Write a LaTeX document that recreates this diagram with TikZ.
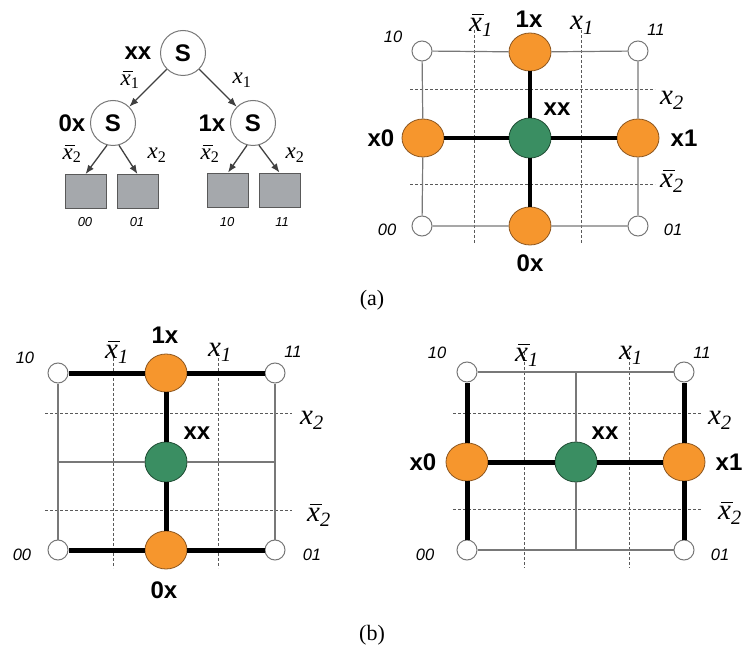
\documentclass[tikz,border=0pt]{standalone}
\usepackage{fontspec}
\setmainfont{Liberation Serif}
\setsansfont{Liberation Sans}
\usetikzlibrary{shapes.geometric,arrows.meta}
\definecolor{orfill}{RGB}{246,150,45}
\definecolor{ordraw}{RGB}{140,85,30}
\definecolor{grfill}{RGB}{58,142,98}
\definecolor{grdraw}{RGB}{30,75,50}
\definecolor{leaffill}{RGB}{165,168,172}
\definecolor{thingray}{RGB}{120,120,120}
\newcommand\barx{\leavevmode\rlap{\hspace{0.1em}\raisebox{0.56em}{\rule{0.42em}{0.055em}}}x}
\newcommand\mx[1]{\textit{x}\textsubscript{\textit{#1}}}
\newcommand\mxb[1]{\textit{\barx}\textsubscript{\textit{#1}}}
\newcommand\tx[1]{\textit{x}\textsubscript{#1}}
\newcommand\txb[1]{\textit{\barx}\textsubscript{#1}}
\begin{document}
\begin{tikzpicture}[x=1pt,y=-1pt,
  snode/.style={circle, draw=thingray, line width=1pt, fill=white, minimum size=45pt, inner sep=0pt, font=\fontsize{24}{24}\selectfont\sffamily\bfseries},
  leaf/.style={rectangle, draw=gray!70!black, line width=0.8pt, fill=leaffill, minimum width=41pt, minimum height=34pt, inner sep=0pt},
  arr/.style={-{Latex[length=9pt,width=7pt]}, line width=1.3pt, draw=black!75},
  orn/.style={ellipse, draw=ordraw, line width=0.8pt, fill=orfill, minimum width=42pt, minimum height=38pt, inner sep=0pt},
  grn/.style={ellipse, draw=grdraw, line width=0.8pt, fill=grfill, minimum width=42pt, minimum height=40pt, inner sep=0pt},
  crn/.style={circle, draw=thingray, line width=1pt, fill=white, minimum size=20pt, inner sep=0pt},
  thinE/.style={draw=thingray, line width=1.2pt},
  thickA/.style={draw=black, line width=3.3pt},
  thickB/.style={draw=black, line width=5pt},
  dsh/.style={draw=black!65, dash pattern=on 3pt off 2pt, line width=0.9pt},
  bl/.style={font=\fontsize{24}{24}\selectfont\sffamily\bfseries, inner sep=0pt},
  num/.style={font=\fontsize{16.5}{16.5}\selectfont\sffamily\itshape, inner sep=0pt},
  tnum/.style={font=\fontsize{13}{13}\selectfont\sffamily\itshape, inner sep=0pt},
  mlab/.style={font=\fontsize{29}{29}\selectfont, inner sep=0pt},
  tlab/.style={font=\fontsize{23}{23}\selectfont, inner sep=0pt},
  capt/.style={font=\fontsize{22}{22}\selectfont, inner sep=0pt}]
\useasboundingbox (0,0) rectangle (745,655);

% ---------------- Tree ----------------
\node[snode] (rt) at (183,53) {S};
\node[snode] (ls) at (113,123) {S};
\node[snode] (rs) at (253,123) {S};
\node[leaf] (b00) at (85.5,191.5) {};
\node[leaf] (b01) at (137.5,191.5) {};
\node[leaf] (b10) at (228,190) {};
\node[leaf] (b11) at (279.5,190) {};
\draw[arr] (rt) -- (ls);
\draw[arr] (rt) -- (rs);
\draw[arr] (ls.-105) -- (b00.north);
\draw[arr] (ls.-75) -- (b01.north);
\draw[arr] (rs.-105) -- (b10.north);
\draw[arr] (rs.-75) -- (b11.north);
\node[bl] (txx) at (138,53) {xx};
\node[bl] (t0x) at (72,123) {0x};
\node[bl] (t1x) at (212,123) {1x};
\node[tlab] (te1) at (130,80) {\txb{1}};
\node[tlab] (te2) at (242,80) {\tx{1}};
\node[tlab] (te3) at (72,154) {\txb{2}};
\node[tlab] (te4) at (157,155) {\tx{2}};
\node[tlab] (te5) at (210,154) {\txb{2}};
\node[tlab] (te6) at (295,155) {\tx{2}};
\node[tnum] (tl00) at (85,222) {00};
\node[tnum] (tl01) at (137,222) {01};
\node[tnum] (tl10) at (227,222) {10};
\node[tnum] (tl11) at (282,222) {11};

% ---------------- (a) grid ----------------
\draw[dsh] (474,30) -- (474,243);
\draw[dsh] (581,30) -- (581,243);
\draw[dsh] (410,89) -- (655,89);
\draw[dsh] (410,184) -- (655,184);
\node[crn] (a10) at (422,51) {};
\node[crn] (a11) at (638,51) {};
\node[crn] (a00) at (422,226) {};
\node[crn] (a01) at (638,226) {};
\node[orn] (a1x) at (530,52) {};
\node[orn] (a0x) at (530,226) {};
\node[orn] (ax0) at (423,138) {};
\node[orn] (ax1) at (638,138) {};
\node[grn] (axx) at (530,138) {};
\draw[thinE] (a10) -- (a1x) (a1x) -- (a11) (a11) -- (ax1) (ax1) -- (a01)
  (a01) -- (a0x) (a0x) -- (a00) (a00) -- (ax0) (ax0) -- (a10);
\draw[thickA] (axx) -- (a1x) (axx) -- (a0x) (axx) -- (ax0) (axx) -- (ax1);
\node[mlab] (la1) at (481,25) {\mxb{1}};
\node[mlab] (la2) at (582,25) {\mx{1}};
\node[bl] (la3) at (529,19) {1x};
\node[num] (la4) at (393,37) {10};
\node[num] (la5) at (656,30) {11};
\node[mlab] (la6) at (672,100) {\mx{2}};
\node[bl] (la7) at (557,109) {xx};
\node[bl] (la8) at (381,138) {x0};
\node[bl] (la9) at (684,138) {x1};
\node[mlab] (la10) at (672,181) {\mxb{2}};
\node[num] (la11) at (387,230) {00};
\node[num] (la12) at (673,230) {01};
\node[bl] (la13) at (530,263) {0x};
\node[capt] (capa) at (372,300) {(a)};

% ---------------- (b) left grid ----------------
\draw[dsh] (113,353) -- (113,568);
\draw[dsh] (218,353) -- (218,568);
\draw[dsh] (45,413) -- (292,413);
\draw[dsh] (45,510) -- (292,510);
\node[crn] (l10) at (58,373) {};
\node[crn] (l11) at (275,373) {};
\node[crn] (l00) at (58,550) {};
\node[crn] (l01) at (275,550) {};
\node[orn] (l1x) at (166,373) {};
\node[orn] (l0x) at (166,550) {};
\node[grn] (lxx) at (166,462) {};
\coordinate (lml) at (58,462);
\coordinate (lmr) at (275,462);
\draw[thinE] (l10) -- (l00) (l11) -- (l01) (lml) -- (lxx) (lxx) -- (lmr);
\draw[thickB] (l10) -- (l1x) (l1x) -- (l11) (l00) -- (l0x) (l0x) -- (l01)
  (l1x) -- (lxx) (lxx) -- (l0x);
\node[num] (lb1) at (25,358) {10};
\node[mlab] (lb2) at (117,352) {\mxb{1}};
\node[bl] (lb3) at (165,335) {1x};
\node[mlab] (lb4) at (220,352) {\mx{1}};
\node[num] (lb5) at (293,352) {11};
\node[mlab] (lb6) at (312,420) {\mx{2}};
\node[bl] (lb7) at (197,433) {xx};
\node[mlab] (lb8) at (319,515) {\mxb{2}};
\node[num] (lb9) at (22,555) {00};
\node[num] (lb10) at (312,555) {01};
\node[bl] (lb11) at (164,590) {0x};

% ---------------- (b) right grid ----------------
\draw[dsh] (524,352) -- (524,568);
\draw[dsh] (629,352) -- (629,568);
\draw[dsh] (453,413) -- (702,413);
\draw[dsh] (453,509) -- (702,509);
\node[crn] (r10) at (467,372) {};
\node[crn] (r11) at (684,372) {};
\node[crn] (r00) at (467,550) {};
\node[crn] (r01) at (684,550) {};
\node[orn] (rx0) at (467,462) {};
\node[orn] (rx1) at (684,462) {};
\node[grn] (rxx) at (576,462) {};
\coordinate (rmt) at (576,372);
\coordinate (rmb) at (576,550);
\draw[thinE] (r10) -- (r11) (r00) -- (r01) (rmt) -- (rxx) (rxx) -- (rmb);
\draw[thickB] (r10) -- (rx0) (rx0) -- (r00) (r11) -- (rx1) (rx1) -- (r01)
  (rx0) -- (rxx) (rxx) -- (rx1);
\node[num] (rb1) at (437,353) {10};
\node[mlab] (rb2) at (527,355) {\mxb{1}};
\node[mlab] (rb3) at (631,355) {\mx{1}};
\node[num] (rb4) at (702,353) {11};
\node[mlab] (rb5) at (720,420) {\mx{2}};
\node[bl] (rb6) at (605,433) {xx};
\node[bl] (rb7) at (423,462) {x0};
\node[bl] (rb8) at (729,462) {x1};
\node[mlab] (rb9) at (730,513) {\mxb{2}};
\node[num] (rb10) at (425,555) {00};
\node[num] (rb11) at (720,555) {01};
\node[capt] (capb) at (372,635) {(b)};
\end{tikzpicture}
\end{document}
